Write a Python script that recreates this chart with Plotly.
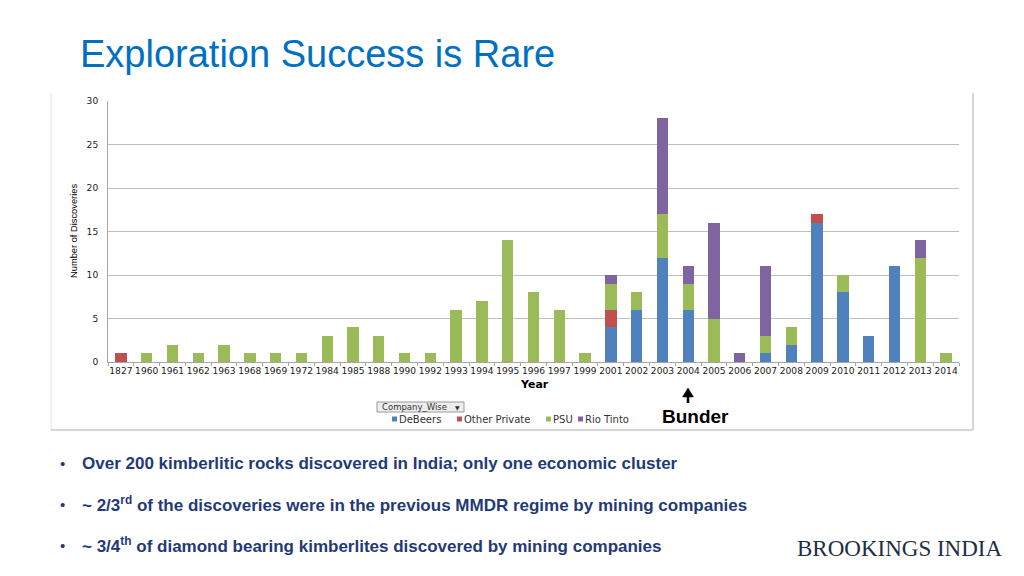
import plotly.graph_objects as go

# ---------------- data ----------------
years = ["1827", "1960", "1961", "1962", "1963", "1968", "1969", "1972", "1984", "1985",
         "1988", "1990", "1992", "1993", "1994", "1995", "1996", "1997", "1999", "2001",
         "2002", "2003", "2004", "2005", "2006", "2007", "2008", "2009", "2010", "2011",
         "2012", "2013", "2014"]
debeers = [0, 0, 0, 0, 0, 0, 0, 0, 0, 0, 0, 0, 0, 0, 0, 0, 0, 0, 0, 4,
           6, 12, 6, 0, 0, 1, 2, 16, 8, 3, 11, 0, 0]
other_private = [1, 0, 0, 0, 0, 0, 0, 0, 0, 0, 0, 0, 0, 0, 0, 0, 0, 0, 0, 2,
                 0, 0, 0, 0, 0, 0, 0, 1, 0, 0, 0, 0, 0]
psu = [0, 1, 2, 1, 2, 1, 1, 1, 3, 4, 3, 1, 1, 6, 7, 14, 8, 6, 1, 3,
       2, 5, 3, 5, 0, 2, 2, 0, 2, 0, 0, 12, 1]
rio_tinto = [0, 0, 0, 0, 0, 0, 0, 0, 0, 0, 0, 0, 0, 0, 0, 0, 0, 0, 0, 1,
             0, 11, 2, 11, 1, 8, 0, 0, 0, 0, 0, 2, 0]
series_names = ["DeBeers", "Other Private", "PSU", "Rio Tinto"]
series_values = [debeers, other_private, psu, rio_tinto]
series_colors = ["#4F81BD", "#C0504D", "#9BBB59", "#8064A2"]

title_text = "Exploration Success is Rare"
bullets = [
    "Over 200 kimberlitic rocks discovered in India; only one economic cluster",
    "~ 2/3<sup>rd</sup> of the discoveries were in the previous MMDR regime by mining companies",
    "~ 3/4<sup>th</sup> of diamond bearing kimberlites discovered by mining companies",
]

# ---------------- layout helpers ----------------
W, H = 1024, 576
L, R, T, B = 108, 959, 101, 362


def px(x):
    return (x - L) / (R - L)


def py(y):
    return (B - y) / (B - T)


fig = go.Figure()
for name, vals, col in zip(series_names, series_values, series_colors):
    fig.add_trace(go.Bar(x=years, y=vals, name=name, marker=dict(color=col, line=dict(width=0))))

tick_font = dict(family="DejaVu Sans", size=9.1, color="#1a1a1a")

fig.update_layout(
    width=W, height=H,
    margin=dict(l=L, r=W - R, t=T, b=H - B, autoexpand=False),
    barmode="stack",
    bargap=0.56,
    showlegend=False,
    paper_bgcolor="white",
    plot_bgcolor="white",
    xaxis=dict(
        type="category", categoryorder="array", categoryarray=years,
        showgrid=False, showline=True, linecolor="#A6A6A6", linewidth=1,
        ticks="outside", tickson="boundaries", ticklen=3, tickcolor="#A6A6A6",
        tickfont=tick_font, tickangle=0, fixedrange=True,
    ),
    yaxis=dict(
        range=[0, 30], dtick=5, showgrid=True, gridcolor="#BFBFBF", gridwidth=1,
        showline=True, linecolor="#A6A6A6", linewidth=1, zeroline=False,
        tickfont=tick_font, ticks="", ticklabelstandoff=7,
    ),
)

shapes = []
annotations = []

# chart frame (image border)
frame_col = "#C8C8C8"
shapes.append(dict(type="line", xref="paper", yref="paper", x0=px(51), x1=px(51), y0=py(93), y1=py(430),
                   line=dict(color="#E2E2E2", width=1)))
shapes.append(dict(type="line", xref="paper", yref="paper", x0=px(51), x1=px(973), y0=py(430), y1=py(430),
                   line=dict(color=frame_col, width=1.5)))
shapes.append(dict(type="line", xref="paper", yref="paper", x0=px(973), x1=px(973), y0=py(93), y1=py(430),
                   line=dict(color=frame_col, width=1.5)))

# title
annotations.append(dict(text=title_text, xref="paper", yref="paper", x=px(78), y=py(54),
                        xanchor="left", yanchor="middle", showarrow=False,
                        font=dict(family="Liberation Sans, Arial", size=38, color="#0070C0")))

# axis titles
annotations.append(dict(text="Number of Discoveries", xref="paper", yref="paper", x=px(74), y=py(231),
                        xanchor="center", yanchor="middle", showarrow=False, textangle=-90,
                        font=dict(family="Liberation Sans Narrow, Arial Narrow, Liberation Sans", size=9.3,
                                  color="#000000")))
annotations.append(dict(text="<b>Year</b>", xref="paper", yref="paper", x=px(534), y=py(384),
                        xanchor="center", yanchor="middle", showarrow=False,
                        font=dict(family="DejaVu Sans", size=11, color="#000000")))

# Company_Wise dropdown
shapes.append(dict(type="rect", xref="paper", yref="paper", x0=px(377), x1=px(464), y0=py(412), y1=py(402),
                   line=dict(color="#9A9A9A", width=1), fillcolor="#EDEDED"))
annotations.append(dict(text="Company_Wise", xref="paper", yref="paper", x=px(380), y=py(407),
                        xanchor="left", yanchor="middle", showarrow=False,
                        font=dict(family="DejaVu Sans", size=8.5, color="#333333")))
annotations.append(dict(text="▼", xref="paper", yref="paper", x=px(457), y=py(407),
                        xanchor="center", yanchor="middle", showarrow=False,
                        font=dict(family="DejaVu Sans", size=6, color="#333333")))

# manual legend
legend_x = [392, 457, 546, 578]
for lx, name, col in zip(legend_x, series_names, series_colors):
    shapes.append(dict(type="rect", xref="paper", yref="paper", x0=px(lx), x1=px(lx + 5),
                       y0=py(421.5), y1=py(416.5), line=dict(width=0), fillcolor=col))
    annotations.append(dict(text=name, xref="paper", yref="paper", x=px(lx + 5), y=py(419.5),
                            xanchor="left", yanchor="middle", showarrow=False,
                            font=dict(family="DejaVu Sans", size=10, color="#333333")))

# Bunder label + arrow (drawn as shapes)
annotations.append(dict(text="<b>Bunder</b>", xref="paper", yref="paper", x=px(695), y=py(416.5),
                        xanchor="center", yanchor="middle", showarrow=False,
                        font=dict(family="Liberation Sans, Arial", size=19, color="#000000")))
tri = "M {} {} L {} {} L {} {} Z".format(px(688), py(388), px(682.5), py(397), px(693.5), py(397))
shapes.append(dict(type="path", xref="paper", yref="paper", path=tri,
                   fillcolor="#000000", line=dict(color="#000000", width=0.5)))
shapes.append(dict(type="rect", xref="paper", yref="paper", x0=px(686.7), x1=px(689.3),
                   y0=py(403), y1=py(396), fillcolor="#000000", line=dict(width=0)))

# bullets
bullet_y = [463, 504, 545]
for by, txt in zip(bullet_y, bullets):
    annotations.append(dict(text="•", xref="paper", yref="paper", x=px(62), y=py(by),
                            xanchor="center", yanchor="middle", showarrow=False,
                            font=dict(family="Liberation Sans, Arial", size=15, color="#1F3A78")))
    annotations.append(dict(text="<b>" + txt + "</b>", xref="paper", yref="paper", x=px(80), y=py(by),
                            xanchor="left", yanchor="middle", showarrow=False,
                            font=dict(family="Liberation Sans, Arial", size=17, color="#1F3A78")))

# logo text
annotations.append(dict(text="BROOKINGS INDIA", xref="paper", yref="paper", x=px(1004), y=py(548),
                        xanchor="right", yanchor="middle", showarrow=False,
                        font=dict(family="Liberation Serif, DejaVu Serif", size=23, color="#1E2F44")))

fig.update_layout(shapes=shapes, annotations=annotations)
fig.write_html("out.html", config={"displayModeBar": False},
               post_script="document.body.style.margin='0';")
